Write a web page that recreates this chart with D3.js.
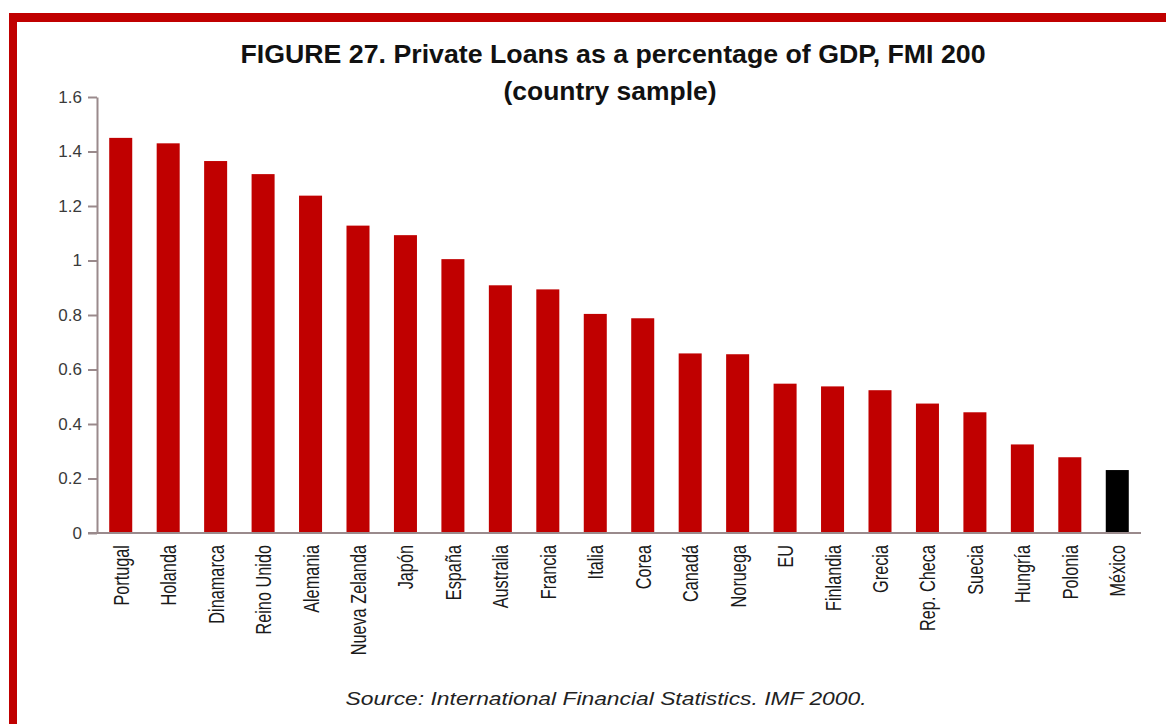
<!DOCTYPE html>
<html>
<head>
<meta charset="utf-8">
<script src="https://cdn.jsdelivr.net/npm/d3@7"></script>
<style>
  html, body { margin: 0; padding: 0; background: #fff; }
  svg { display: block; }
</style>
</head>
<body>
<svg id="chart" width="1166" height="724"></svg>
<script>
// Private loans as a share of GDP by country
const countries = ["Portugal", "Holanda", "Dinamarca", "Reino Unido", "Alemania", "Nueva Zelanda",
  "Japón", "España", "Australia", "Francia", "Italia", "Corea", "Canadá", "Noruega", "EU",
  "Finlandia", "Grecia", "Rep. Checa", "Suecia", "Hungría", "Polonia", "México"];
const loans = [1.45, 1.43, 1.365, 1.317, 1.238, 1.128, 1.093, 1.005, 0.909, 0.894, 0.804, 0.788,
  0.659, 0.656, 0.548, 0.538, 0.524, 0.475, 0.443, 0.325, 0.278, 0.231];
const highlighted = ["México"];
const yTicks = [0, 0.2, 0.4, 0.6, 0.8, 1, 1.2, 1.4, 1.6];
const yTickLabels = ["0", "0.2", "0.4", "0.6", "0.8", "1", "1.2", "1.4", "1.6"];

const titleLines = ["FIGURE 27. Private Loans as a percentage of GDP, FMI 200", "(country sample)"];
const sourceNote = "Source: International Financial Statistics. IMF 2000.";

const W = 1166, H = 724;
const plot = { left: 97, right: 1141, top: 97, bottom: 533 };
const RED = "#c00000";
const AXIS = "#9a8a8c";
const FONT = "'Liberation Sans', Arial, sans-serif";

const svg = d3.select("#chart");
svg.append("rect").attr("width", W).attr("height", H).attr("fill", "#fff");

// frame (top and left rules)
svg.append("rect").attr("x", 9).attr("y", 13).attr("width", W - 9).attr("height", 9).attr("fill", RED);
svg.append("rect").attr("x", 9).attr("y", 13).attr("width", 8).attr("height", H - 13).attr("fill", RED);

const x = d3.scaleBand()
  .domain(countries)
  .range([plot.left, plot.right])
  .paddingInner(0.515)
  .paddingOuter(0.2575);

const y = d3.scaleLinear().domain([0, 1.6]).range([plot.bottom, plot.top]);

// title, two centred lines
svg.append("g").selectAll("text")
  .data(titleLines)
  .join("text")
  .attr("x", (d, i) => i === 0 ? 613 : 610)
  .attr("y", (d, i) => i === 0 ? 63 : 100)
  .attr("text-anchor", "middle")
  .attr("font-family", FONT)
  .attr("font-weight", "bold")
  .attr("font-size", 25)
  .attr("fill", "#111")
  .attr("textLength", (d, i) => i === 0 ? 745 : 213)
  .attr("lengthAdjust", "spacingAndGlyphs")
  .text(d => d);

// bars
svg.append("g").selectAll("rect")
  .data(countries.map((c, i) => ({ c, v: loans[i] })))
  .join("rect")
  .attr("x", d => x(d.c))
  .attr("width", x.bandwidth())
  .attr("y", d => y(d.v))
  .attr("height", d => y(0) - y(d.v))
  .attr("fill", d => highlighted.includes(d.c) ? "#000" : RED);

// y axis
const yAxis = d3.axisLeft(y)
  .tickValues(yTicks)
  .tickFormat((d, i) => yTickLabels[i])
  .tickSize(9)
  .tickPadding(6)
  .tickSizeOuter(0);
const gy = svg.append("g").attr("transform", `translate(${plot.left},0)`).call(yAxis);
gy.select(".domain").attr("stroke", AXIS).attr("stroke-width", 2);
gy.selectAll(".tick line").attr("stroke", AXIS).attr("stroke-width", 2);
gy.selectAll(".tick text")
  .attr("font-family", FONT)
  .attr("font-size", 17)
  .attr("fill", "#3a3a3a");

// x axis line
const xAxis = d3.axisBottom(x).tickSize(0).tickFormat("");
const gx = svg.append("g").attr("transform", `translate(0,${plot.bottom})`).call(xAxis);
gx.select(".domain").attr("stroke", AXIS).attr("stroke-width", 2)
  .attr("d", `M${plot.left - 9},0H${plot.right}`);

// category labels, rotated and narrowed
svg.append("g").selectAll("text")
  .data(countries)
  .join("text")
  .attr("transform", d => `translate(${x(d) + x.bandwidth() / 2},545) rotate(-90) scale(0.74,1)`)
  .attr("text-anchor", "end")
  .attr("dominant-baseline", "central")
  .attr("font-family", FONT)
  .attr("font-size", 22)
  .attr("fill", "#1a1a1a")
  .text(d => d);

// source note
svg.append("text")
  .attr("x", 606)
  .attr("y", 705)
  .attr("text-anchor", "middle")
  .attr("font-family", FONT)
  .attr("font-style", "italic")
  .attr("font-size", 19)
  .attr("fill", "#222")
  .attr("textLength", 521)
  .attr("lengthAdjust", "spacingAndGlyphs")
  .text(sourceNote);
</script>
</body>
</html>
